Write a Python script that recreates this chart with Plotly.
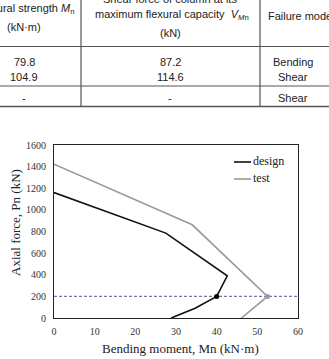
import plotly.graph_objects as go

# ---- data ----
design_x = [0, 27.5, 42.6, 40.0, 34.7, 28.8]
design_y = [1160, 785, 390, 200, 90, 0]
test_x = [0, 34.0, 52.5, 46.1]
test_y = [1422, 862, 200, 0]
design_pt = ([40.0], [200])
test_pt = ([52.5], [200])
ref_load = 200
series_names = ["design", "test"]
series_colors = ["#111111", "#9a9a9a"]

table_col1 = ["79.8", "104.9", "-"]
table_col2 = ["87.2", "114.6", "-"]
table_col3 = ["Bending", "Shear", "Shear"]

W, H = 329, 359
L, R, T, B = 54, 298, 145, 318


def px(x):
    return (x - L) / (R - L)


def py(y):
    return (B - y) / (B - T)


fig = go.Figure()
fig.add_trace(go.Scatter(x=design_x, y=design_y, mode="lines", name=series_names[0],
                         line=dict(color=series_colors[0], width=1.6)))
fig.add_trace(go.Scatter(x=test_x, y=test_y, mode="lines", name=series_names[1],
                         line=dict(color=series_colors[1], width=1.6)))
fig.add_trace(go.Scatter(x=[0, 60], y=[ref_load, ref_load], mode="lines", showlegend=False,
                         line=dict(color="#6a7ca6", width=1.3, dash="3px,2px")))
fig.add_trace(go.Scatter(x=design_pt[0], y=design_pt[1], mode="markers", showlegend=False,
                         marker=dict(color="#000000", size=5)))
fig.add_trace(go.Scatter(x=test_pt[0], y=test_pt[1], mode="markers", showlegend=False,
                         marker=dict(color="#9a9a9a", size=5)))

serif = "Liberation Serif"
sans = "Liberation Sans"

fig.update_layout(
    width=W, height=H,
    margin=dict(l=L, r=W - R, t=T, b=H - B),
    paper_bgcolor="white", plot_bgcolor="white",
    showlegend=False,
    xaxis=dict(range=[0, 60], dtick=10, showgrid=False, zeroline=False,
               showline=True, linecolor="#222", linewidth=1, mirror=True,
               ticks="", ticklabelstandoff=4, tickfont=dict(family=serif, size=10, color="#333")),
    yaxis=dict(range=[0, 1600], dtick=200, showgrid=False, zeroline=False,
               showline=True, linecolor="#222", linewidth=1, mirror=True,
               ticks="", ticklabelstandoff=5, tickfont=dict(family=serif, size=10, color="#333")),
)


def A(text, x, y, font, xa="center", ya="middle", angle=0):
    return dict(text=text, x=px(x), y=py(y), xref="paper", yref="paper", xanchor=xa,
                yanchor=ya, showarrow=False, font=font, textangle=angle)


ann = []
shapes = []
af = dict(family=serif, size=13, color="#222")
ann.append(A("Bending moment, Mn (kN·m)", 180, 348, af))
ann.append(A("Axial force, Pn (kN)", 15, 223, af, angle=-90))

# ---- legend (drawn manually to match the compact original) ----
lf = dict(family=serif, size=12, color="#222")
for name, col, yy in zip(series_names, series_colors, [162, 179]):
    shapes.append(dict(type="line", xref="paper", yref="paper", x0=px(234), x1=px(251),
                       y0=py(yy), y1=py(yy), line=dict(color=col, width=1.6)))
    ann.append(A(name, 251, yy - 1, lf, xa="left"))

# ---- table ----
tc = "#555555"
for yy, w in [(46.5, 1), (86, 1), (106.5, 1.5)]:
    shapes.append(dict(type="line", xref="paper", yref="paper", x0=px(-5), x1=px(335),
                       y0=py(yy), y1=py(yy), line=dict(color=tc, width=w)))
for xx in [81, 260]:
    shapes.append(dict(type="line", xref="paper", yref="paper", x0=px(xx), x1=px(xx),
                       y0=py(-5), y1=py(107), line=dict(color=tc, width=1.2)))

tf = dict(family=sans, size=11, color="#222")
ann.append(A("Flexural strength <i>M</i><sub>n</sub>", 76, 9, tf, xa="right"))
ann.append(A("(kN·m)", 24, 27, tf))
ann.append(A("Shear force of column at its", 170, -1, tf))
ann.append(A("maximum flexural capacity  <i>V</i><sub><i>M</i>n</sub>", 172, 15, tf))
ann.append(A("(kN)", 170, 33, tf))
ann.append(A("Failure mode", 266, 16, tf, xa="left"))
for i, yy in enumerate([62, 77, 98]):
    ann.append(A(table_col1[i], 24, yy, tf))
    ann.append(A(table_col2[i], 170, yy, tf))
    ann.append(A(table_col3[i], 293, yy, tf))

fig.update_layout(annotations=ann, shapes=shapes)
fig.write_html("out.html")
